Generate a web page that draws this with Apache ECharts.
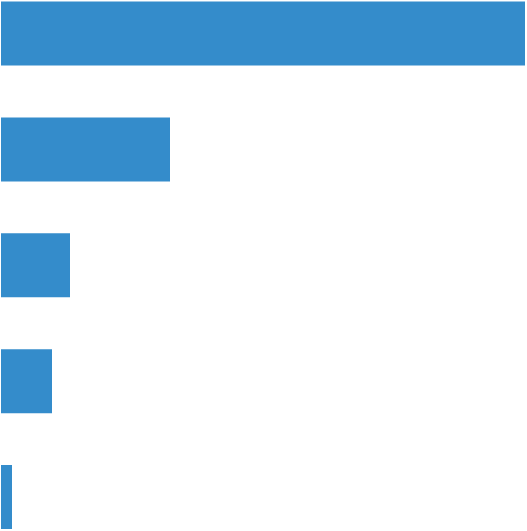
<!DOCTYPE html>
<html><head><meta charset="utf-8">
<script src="https://cdn.jsdelivr.net/npm/echarts@6/dist/echarts.min.js"></script>
<style>html,body{margin:0;padding:0;background:#fff}#c{width:527px;height:531px}</style>
</head><body><div id="c"></div>
<script>
const categories = ['A', 'B', 'C', 'D', 'E'];
const values = [524, 169, 69, 51, 11];
const chart = echarts.init(document.getElementById('c'));
chart.setOption({
  animation: false,
  grid: { left: 1, right: 2, top: 33.5, bottom: 34, containLabel: false },
  xAxis: { type: 'value', min: 0, max: 524, show: false },
  yAxis: { type: 'category', data: categories, inverse: true, boundaryGap: false, show: false },
  series: [{
    type: 'bar',
    data: values,
    barWidth: 64,
    itemStyle: { color: '#348ccb' }
  }]
});
</script></body></html>
